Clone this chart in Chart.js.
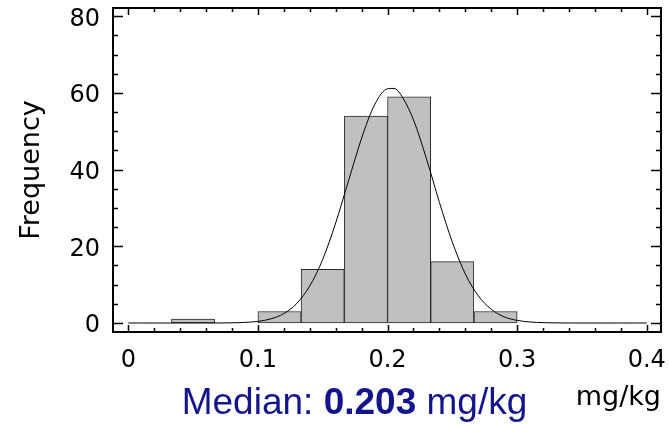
<!DOCTYPE html>
<html>
<head>
<meta charset="utf-8">
<script src="https://cdn.jsdelivr.net/npm/chart.js@4.4.1/dist/chart.umd.min.js"></script>
<style>
  html, body { margin: 0; padding: 0; background: #fff; overflow: hidden; }
  #wrap { position: relative; width: 669px; height: 425px; }
  #median {
    position: absolute;
    left: 354.5px;
    top: 383px;
    transform: translateX(-50%);
    white-space: nowrap;
    font-family: 'Liberation Sans', Arial, sans-serif;
    font-size: 37px;
    line-height: 37px;
    color: #14148c;
  }
</style>
</head>
<body>
<div id="wrap">
  <canvas id="histChart" width="669" height="425"></canvas>
  <div id="median">Median: <b>0.203</b> mg/kg</div>
</div>
<script>
// histogram bins (left edge of each bin, width of a bin) and counts
const binLeft = [0.0333, 0.1, 0.1333, 0.1667, 0.2, 0.2333, 0.2667];
const binWidth = 1 / 30;
const counts = [1, 3, 14, 54, 59, 16, 3];

// fitted curve
const curveX = [0, 0.01, 0.02, 0.03, 0.04, 0.05, 0.06, 0.07, 0.08, 0.09,
  0.10, 0.11, 0.12, 0.13, 0.14, 0.15, 0.16, 0.17, 0.18, 0.19,
  0.20, 0.205, 0.21, 0.22, 0.23, 0.24, 0.25, 0.26, 0.27, 0.28, 0.29,
  0.30, 0.31, 0.32, 0.33, 0.34, 0.35, 0.36, 0.37, 0.38, 0.39, 0.40];
const curveY = [0, 0, 0, 0, 0, 0, 0, 0.01, 0.04, 0.15,
  0.42, 1.07, 2.45, 5.1, 9.65, 16.6, 26.1, 37.2, 48.2, 56.9,
  61.1, 61.2, 59.7, 53.0, 42.9, 31.5, 21.1, 12.8, 7.1, 3.6, 1.6,
  0.68, 0.26, 0.09, 0.03, 0, 0, 0, 0, 0, 0, 0];

// axis ticks
const xTicks = [0, 0.1, 0.2, 0.3, 0.4];
const xTickLabels = ['0', '0.1', '0.2', '0.3', '0.4'];
const yTicks = [0, 20, 40, 60, 80];
const yTickLabels = ['0', '20', '40', '60', '80'];

const axisFont = "'DejaVu Sans', sans-serif";

// frame with inward ticks on all four sides, plus tick labels
const frameTicks = {
  id: 'frameTicks',
  afterDraw(chart) {
    const { ctx, chartArea: a, scales: { x, y } } = chart;
    ctx.save();
    ctx.strokeStyle = '#000';
    ctx.lineWidth = 1.5;
    ctx.beginPath();
    for (let v = 0; v <= 0.4001; v += 0.02) {
      const major = Math.abs(v * 10 - Math.round(v * 10)) < 1e-6;
      const len = major ? 7 : 4;
      const px = Math.round(x.getPixelForValue(v)) + 0.5;
      ctx.moveTo(px, a.bottom); ctx.lineTo(px, a.bottom - len);
      ctx.moveTo(px, a.top); ctx.lineTo(px, a.top + len);
    }
    for (let v = 0; v <= 80; v += 5) {
      const len = v % 20 === 0 ? 10 : 5;
      const py = Math.round(y.getPixelForValue(v)) + 0.5;
      ctx.moveTo(a.left, py); ctx.lineTo(a.left + len, py);
      ctx.moveTo(a.right, py); ctx.lineTo(a.right - len, py);
    }
    ctx.stroke();
    ctx.lineWidth = 2;
    ctx.strokeRect(a.left, a.top, a.right - a.left, a.bottom - a.top);

    ctx.fillStyle = '#000';
    ctx.font = '24px ' + axisFont;
    ctx.textBaseline = 'alphabetic';
    ctx.textAlign = 'center';
    xTicks.forEach((v, i) => {
      ctx.fillText(xTickLabels[i], x.getPixelForValue(v), a.bottom + 35);
    });
    ctx.textAlign = 'right';
    yTicks.forEach((v, i) => {
      ctx.fillText(yTickLabels[i], a.left - 13, y.getPixelForValue(v) + 9.5);
    });
    ctx.restore();
  }
};

const ctx = document.getElementById('histChart').getContext('2d');
new Chart(ctx, {
  type: 'bar',
  data: {
    datasets: [
      {
        type: 'line',
        data: curveX.map((v, i) => ({ x: v, y: curveY[i] })),
        borderColor: '#000',
        borderWidth: 1,
        pointRadius: 0,
        fill: false,
        cubicInterpolationMode: 'monotone',
        order: 0
      },
      {
        type: 'bar',
        data: binLeft.map((v, i) => ({ x: v + binWidth / 2, y: counts[i] })),
        backgroundColor: '#c0c0c0',
        borderColor: '#2a2a2a',
        borderWidth: 1,
        borderSkipped: false,
        barPercentage: 1,
        categoryPercentage: 1,
        order: 1
      }
    ]
  },
  options: {
    responsive: false,
    animation: false,
    layout: { padding: { left: 0, top: 8, right: 8, bottom: 0 } },
    plugins: {
      legend: { display: false },
      tooltip: { enabled: false }
    },
    scales: {
      x: {
        type: 'linear',
        offset: false,
        min: -0.0118,
        max: 0.411,
        grid: { display: false, offset: false },
        border: { display: false },
        ticks: { display: false },
        title: {
          display: true,
          text: 'mg/kg',
          align: 'end',
          color: '#000',
          font: { family: axisFont, size: 27 },
          padding: { top: 0, bottom: 11 }
        },
        afterFit: s => { s.height = 93; }
      },
      y: {
        min: -2.35,
        max: 82.17,
        grid: { display: false },
        border: { display: false },
        ticks: { display: false },
        title: {
          display: true,
          text: 'Frequency',
          color: '#000',
          font: { family: axisFont, size: 27 },
          padding: { top: 16, bottom: 0 }
        },
        afterFit: s => { s.width = 113; }
      }
    }
  },
  plugins: [frameTicks]
});
</script>
</body>
</html>
